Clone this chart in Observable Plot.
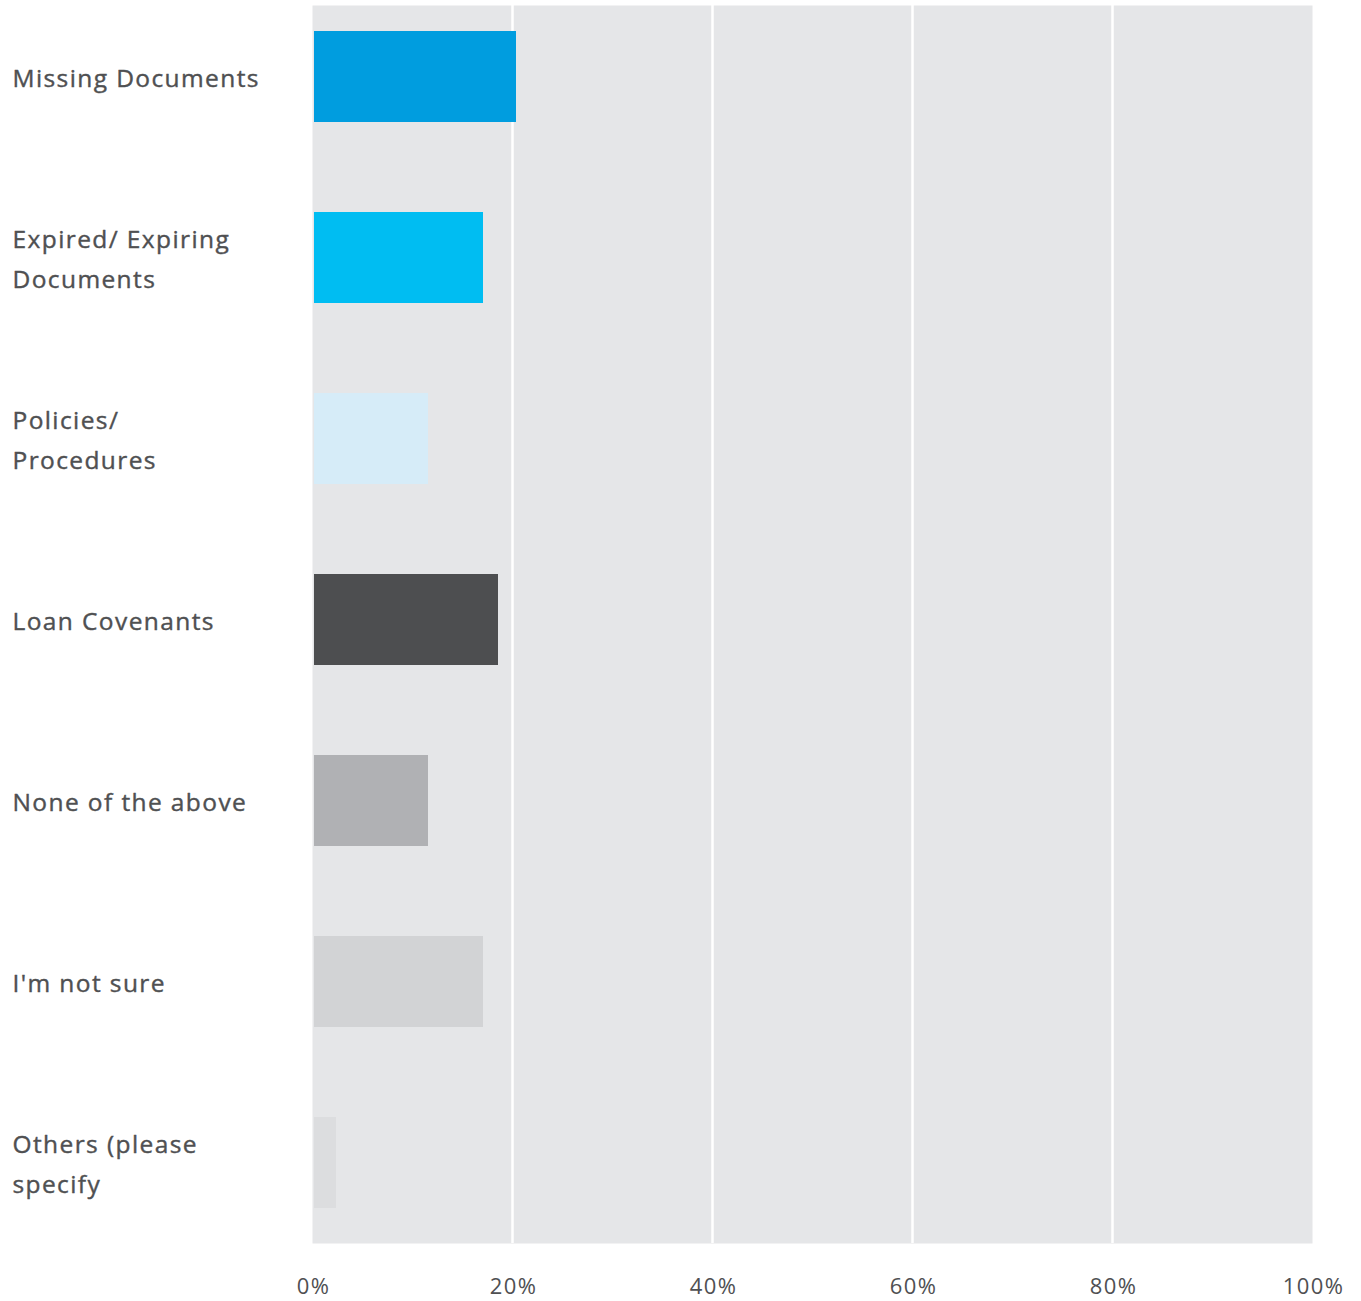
<!DOCTYPE html>
<html>
<head>
<meta charset="utf-8">
<script src="https://cdn.jsdelivr.net/npm/d3@7"></script>
<script src="https://cdn.jsdelivr.net/npm/@observablehq/plot@0.6"></script>
<style>
  html, body { margin: 0; padding: 0; background: #ffffff; }
  #chart svg text { letter-spacing: 1.4px; }
</style>
</head>
<body>
<div id="chart"></div>
<script>
const categories = [
  "Missing Documents",
  "Expired/ Expiring\nDocuments",
  "Policies/\nProcedures",
  "Loan Covenants",
  "None of the above",
  "I'm not sure",
  "Others (please\nspecify"
];
const values = [20.4, 17.1, 11.6, 18.6, 11.6, 17.1, 2.4];
const barColors = ["#009ddf", "#00bdf2", "#d6ecf8", "#4d4e50", "#b0b1b4", "#d2d3d5", "#dcdddf"];
const xTicks = [0, 20, 40, 60, 80, 100];
const gridTicks = [20, 40, 60, 80];

const data = categories.map((c, i) => ({ category: c, value: values[i] }));

const chart = Plot.plot({
  width: 1361,
  height: 1301,
  marginLeft: 312,
  marginRight: 49,
  marginTop: 5,
  marginBottom: 58,
  style: { fontFamily: "'Open Sans', sans-serif", color: "#4f5052", background: "#ffffff" },
  x: { domain: [0, 100] },
  y: { domain: categories, paddingInner: 0.5, paddingOuter: 0.16, align: 0.42 },
  color: { domain: categories, range: barColors },
  marks: [
    Plot.frame({ fill: "#e5e6e8", stroke: null }),
    Plot.gridX(gridTicks, { stroke: "#ffffff", strokeOpacity: 1, strokeWidth: 2.5 }),
    Plot.barX(data, { x: "value", y: "category", fill: "category", insetLeft: 2 }),
    Plot.text(data, {
      y: "category",
      text: "category",
      frameAnchor: "left",
      textAnchor: "start",
      dx: -300,
      dy: -3,
      fontSize: 24.5,
      lineHeight: 1.63,
      fill: "#4f5052",
      stroke: "#4f5052",
      strokeWidth: 0.4
    }),
    Plot.axisX(xTicks, {
      tickSize: 0,
      tickPadding: 35,
      tickFormat: d => d + "%",
      fontSize: 22,
      dx: 1,
      fill: "#4f5052",
      stroke: "#4f5052",
      strokeWidth: 0.4,
      label: null
    }),
    Plot.axisY({ ticks: [], label: null })
  ]
});
document.getElementById("chart").appendChild(chart);
</script>
</body>
</html>
